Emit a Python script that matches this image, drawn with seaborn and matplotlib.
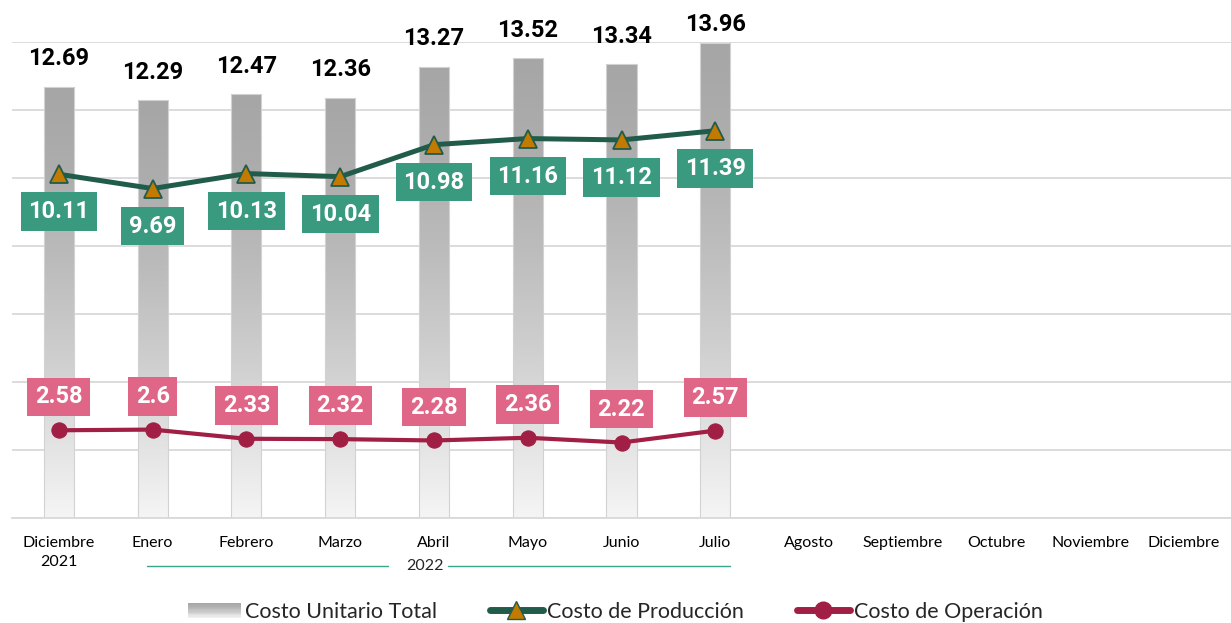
import numpy as np
import pandas as pd
import seaborn as sns
import matplotlib.pyplot as plt
import matplotlib.transforms as mtransforms
from matplotlib.lines import Line2D
from matplotlib.patches import Rectangle, Patch
from matplotlib.legend_handler import HandlerBase
from matplotlib.colors import LinearSegmentedColormap

# ---------------- data ----------------
months = ["Diciembre\n2021", "Enero", "Febrero", "Marzo", "Abril", "Mayo", "Junio",
          "Julio", "Agosto", "Septiembre", "Octubre", "Noviembre", "Diciembre"]
total = [12.69, 12.29, 12.47, 12.36, 13.27, 13.52, 13.34, 13.96]
produccion = [10.11, 9.69, 10.13, 10.04, 10.98, 11.16, 11.12, 11.39]
operacion = [2.58, 2.6, 2.33, 2.32, 2.28, 2.36, 2.22, 2.57]
year_label = "2022"
legend_labels = ["Costo Unitario Total", "Costo de Producción", "Costo de Operación"]

# ---------------- style ----------------
sns.set_theme(style="white")
plt.rcParams['font.family'] = ['Lato', 'DejaVu Sans']
BOLD_FONT = ['Roboto', 'DejaVu Sans']

GREEN_LINE = "#215c4b"
GREEN_BOX = "#3a9a80"
MARKER_FILL = "#c27a00"
RED_LINE = "#a11f44"
PINK_BOX = "#e06688"
GRID = "#d9d9d9"

grad_cmap = LinearSegmentedColormap.from_list(
    "g", [(0.0, (0.96, 0.96, 0.96)), (0.37, (0.81, 0.81, 0.81)),
          (0.58, (0.74, 0.74, 0.74)), (0.8, (0.68, 0.68, 0.68)),
          (1.0, (0.65, 0.65, 0.65))])

fig = plt.figure(figsize=(12.31, 6.23), dpi=100)
ax = fig.add_axes([12 / 1231, 105 / 623, 1219 / 1231, 476 / 623])

df = pd.DataFrame({"mes": months[:len(total)], "total": total})
sns.barplot(data=df, x="mes", y="total", order=months, width=0.32, ax=ax,
            color="#aaaaaa", edgecolor="#d2d2d2", linewidth=0.8, zorder=2)

# gradient fill of bars
grad = np.linspace(0, 1, 256).reshape(-1, 1)
for p in list(ax.patches):
    x0, w, h = p.get_x(), p.get_width(), p.get_height()
    im = ax.imshow(grad, extent=[x0, x0 + w, 0, h], origin="lower", aspect="auto",
                   cmap=grad_cmap, vmin=0, vmax=1, zorder=1.9)
    im.set_clip_path(p)
    p.set_facecolor("none")

xs = np.arange(len(produccion))
sns.lineplot(x=xs, y=produccion, ax=ax, color=GREEN_LINE, linewidth=3.6,
             marker="^", markersize=13, markerfacecolor=MARKER_FILL,
             markeredgecolor=GREEN_LINE, markeredgewidth=1.3, zorder=4)
sns.lineplot(x=np.arange(len(operacion)), y=operacion, ax=ax, color=RED_LINE,
             linewidth=3.0, marker="o", markersize=11, markerfacecolor=RED_LINE,
             markeredgecolor=RED_LINE, zorder=4)

ax.set_xlim(-0.5, len(months) - 0.5)
ax.set_ylim(0, 14)
ax.set_yticks(np.arange(0, 15, 2))
ax.tick_params(axis="y", length=0, labelleft=False)
ax.grid(axis="y", color=GRID, linewidth=1.3)
ax.set_axisbelow(True)
for s in ["left", "right", "top"]:
    ax.spines[s].set_visible(False)
ax.spines["bottom"].set_color(GRID)
ax.spines["bottom"].set_linewidth(1.3)
ax.set_xlabel("")
ax.set_ylabel("")
ax.set_xticks(np.arange(len(months)))
ax.set_xticklabels(months, linespacing=1.45)
ax.set_xticks(np.arange(-0.5, len(months), 1), minor=True)
ax.tick_params(axis="x", which="major", length=0, pad=13, labelsize=11.5, colors="#000000")
ax.tick_params(axis="x", which="minor", length=5, width=1.2, color=GRID)

# value labels
for i, v in enumerate(total):
    ax.text(i, min(v + 0.82, 14.52), f"{v:g}", ha="center", va="center",
            fontsize=17, fontweight="bold", family=BOLD_FONT, color="black",
            clip_on=False, zorder=6)
for i, v in enumerate(produccion):
    ax.annotate(f"{v:g}", (i, v), xytext=(0, -27), textcoords="offset points",
                ha="center", va="center", color="white", fontsize=17, fontweight="bold",
                family=BOLD_FONT,
                bbox=dict(boxstyle="square,pad=0.33", fc=GREEN_BOX, ec="none"), zorder=6)
for i, v in enumerate(operacion):
    ax.annotate(f"{v:g}", (i, v), xytext=(0, 24), textcoords="offset points",
                ha="center", va="center", color="white", fontsize=17, fontweight="bold",
                family=BOLD_FONT,
                bbox=dict(boxstyle="square,pad=0.33", fc=PINK_BOX, ec="none"), zorder=6)

# year annotation
blend = mtransforms.blended_transform_factory(ax.transData, ax.transAxes)
ax.text(3.9, -0.101, year_label, transform=blend, ha="center", va="center", fontsize=11.5)
ax.plot([0.94, 3.51], [-0.101, -0.101], transform=blend, color="#3aa58a", lw=1, clip_on=False)
ax.plot([4.15, 7.16], [-0.101, -0.101], transform=blend, color="#3aa58a", lw=1, clip_on=False)


class GradHandler(HandlerBase):
    def create_artists(self, legend, orig, xd, yd, width, height, fontsize, trans):
        arts = []
        n = 12
        for k in range(n):
            c = grad_cmap((k + 0.5) / n)
            r = Rectangle((xd, yd + height * k / n), width, height / n + 0.2,
                          facecolor=c, edgecolor="none", transform=trans)
            arts.append(r)
        return arts


h_bar = Patch(facecolor="#aaaaaa")
h_prod = Line2D([], [], color=GREEN_LINE, lw=5, marker="^", markersize=13,
                markerfacecolor=MARKER_FILL, markeredgecolor=GREEN_LINE)
h_op = Line2D([], [], color=RED_LINE, lw=5, marker="o", markersize=12,
              markerfacecolor=RED_LINE, markeredgecolor=RED_LINE)
fig.legend([h_bar, h_prod, h_op], legend_labels, loc="center",
           bbox_to_anchor=(0.5, 1 - 612 / 623), ncol=3, frameon=False, fontsize=15.5,
           handlelength=2.45, columnspacing=2.45, handletextpad=0.2,
           handler_map={Patch: GradHandler()})

fig.savefig("out.png", dpi=100)
